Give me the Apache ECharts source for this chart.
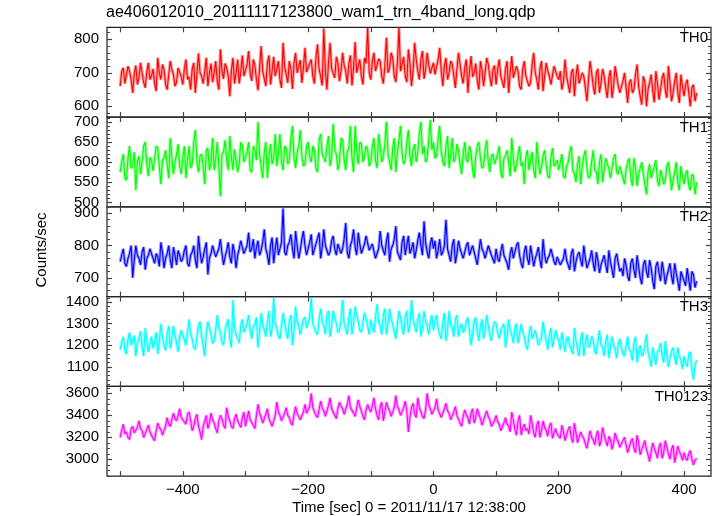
<!DOCTYPE html>
<html>
<head>
<meta charset="utf-8">
<script src="https://cdn.jsdelivr.net/npm/echarts@6/dist/echarts.min.js"></script>
<style>html,body{margin:0;padding:0;background:#fff}#c{width:717px;height:516px}</style>
</head>
<body>
<div id="c"></div>
<script>
// time axis: first bin time and bin width (sec)
const T0 = -500, DT = 2.5;
const titleText = 'ae406012010_20111117123800_wam1_trn_4band_long.qdp';
const yTitle = 'Counts/sec';
const xTitle = 'Time [sec] 0 = 2011/11/17 12:38:00';
const xMajorTicks = [-500,-400,-300,-200,-100,0,100,200,300,400];
const xTickLabels = [-400,-200,0,200,400];
const panelNames = ['TH0','TH1','TH2','TH3','TH0123'];

const th0 = [
660,705,715,668,672,720,705,680,640,698,722,665,685,730,700,672,655,702,730,680,690,712,668,645,745,700,680,725,710,665,650,695,735,710,695,660,672,715,720,688,
665,712,740,680,688,650,712,730,640,695,758,700,690,668,705,745,660,700,728,672,700,735,675,650,770,705,682,728,715,690,630,705,745,668,700,740,668,702,752,690,
690,725,765,700,676,740,722,680,648,712,780,705,700,660,730,752,665,705,748,690,712,735,680,655,790,720,695,670,735,712,652,730,760,700,705,738,670,715,775,702,
700,728,740,690,668,745,785,710,690,662,832,705,650,730,790,712,712,685,748,730,675,705,760,722,705,668,728,752,662,715,792,700,720,740,690,665,745,728,834,700,
680,735,760,705,700,742,735,690,668,720,805,700,715,760,745,690,672,730,836,705,725,748,690,672,770,728,660,705,790,740,705,680,740,765,682,710,760,725,698,715,
730,695,690,740,775,705,660,722,745,680,700,735,728,690,655,712,760,725,690,668,715,740,640,705,750,688,700,728,678,650,735,710,660,700,745,725,690,660,710,722,
665,712,740,690,690,655,712,735,640,700,750,685,685,720,705,660,650,712,735,690,695,660,670,725,760,700,680,650,712,735,645,690,730,705,690,665,660,720,725,690,
680,705,650,672,740,690,665,640,700,712,630,690,725,668,672,700,690,655,615,680,735,700,660,635,700,712,640,672,712,690,655,625,685,708,625,660,720,690,660,640,
640,675,700,655,610,670,680,640,650,695,725,660,630,605,690,672,600,650,670,695,645,612,705,668,620,650,685,700,650,625,720,672,615,640,675,700,640,610,695,660,
630,665,680,640,600,655,665,615,640];
const th1 = [
575,600,620,560,555,610,640,585,590,625,530,600,615,570,600,640,650,595,565,612,605,578,580,640,635,590,545,605,610,630,595,560,660,610,570,598,620,645,590,570,
610,640,560,605,640,585,595,650,680,600,575,615,620,590,545,630,635,580,600,660,580,610,650,590,515,620,625,655,605,580,665,615,580,632,630,575,595,650,640,600,
600,625,650,580,575,640,630,605,700,620,590,560,625,650,560,615,645,595,610,670,590,620,670,600,580,640,635,595,605,660,690,610,585,625,640,680,615,590,595,640,
650,610,600,640,630,585,575,655,670,620,610,600,640,665,590,615,695,630,620,580,600,660,655,605,580,625,635,690,610,575,690,630,595,650,645,600,615,640,630,590,
600,640,660,605,585,670,640,600,615,645,700,620,600,580,635,660,575,625,655,690,620,595,605,650,680,615,590,630,645,600,625,670,700,620,640,600,610,655,705,630,
650,610,615,660,690,625,600,590,640,665,585,620,660,600,610,645,630,595,570,620,650,605,600,640,625,580,560,615,640,650,610,585,590,630,655,600,575,615,620,595,
595,620,640,575,560,610,615,630,600,565,660,610,575,590,620,640,590,600,545,615,630,580,605,625,580,560,650,605,570,590,615,630,595,565,560,610,635,590,590,605,
580,600,620,565,560,590,600,625,640,580,570,550,595,615,545,590,615,630,585,560,565,600,630,580,575,545,600,620,550,580,610,595,585,560,560,610,620,575,570,590,
590,560,545,580,600,610,565,540,610,585,540,570,585,600,570,545,520,575,595,560,560,590,605,555,540,580,580,545,555,590,600,570,530,555,575,600,550,530,590,565,
545,570,580,540,530,570,565,520,550];
const th2 = [
750,770,790,745,735,760,775,800,700,755,800,770,760,740,780,795,725,760,770,790,790,760,745,775,765,735,810,780,730,760,775,800,755,730,795,770,740,785,770,750,
760,785,800,745,735,770,780,800,755,730,830,780,745,765,790,810,710,760,775,800,800,765,760,790,820,775,740,765,785,810,765,745,805,780,730,770,790,815,815,775,
775,800,840,780,790,820,760,795,815,770,785,810,850,790,770,740,800,825,745,790,825,770,790,810,915,780,770,800,810,835,790,760,845,800,760,785,820,845,800,770,
790,810,835,770,775,805,810,840,760,795,850,800,800,770,780,815,830,790,770,805,805,775,790,820,870,780,760,800,815,850,795,770,840,805,775,790,805,830,830,785,
780,805,810,760,760,790,845,800,795,770,815,840,750,790,800,820,860,780,785,755,810,830,770,800,830,775,790,810,760,785,815,840,800,770,875,810,780,760,805,825,
790,815,760,785,820,770,780,800,880,790,770,750,800,820,745,775,815,790,785,760,765,800,810,770,775,800,795,760,740,780,820,790,780,760,760,800,800,770,770,745,
790,760,750,780,805,770,770,745,725,775,795,760,765,800,810,770,745,730,780,800,760,740,800,770,735,760,775,795,755,730,820,770,745,760,770,790,790,750,740,765,
765,740,735,760,790,755,750,725,775,790,720,750,770,780,755,735,800,760,730,745,760,785,745,720,780,755,715,740,755,770,740,715,785,750,725,700,760,775,745,720,
730,705,760,740,705,690,745,760,725,700,770,735,700,680,740,755,720,700,755,730,690,665,735,750,715,690,750,720,680,705,725,745,705,680,745,715,690,660,720,705,
700,675,730,695,660,720,710,670,690];
const th3 = [
1180,1215,1240,1175,1160,1230,1260,1200,1200,1245,1150,1210,1230,1265,1190,1150,1280,1225,1170,1205,1240,1185,1215,1260,1160,1220,1300,1240,1200,1175,1250,1290,1185,1230,1290,1250,1210,1170,1240,1270,
1270,1225,1200,1260,1320,1250,1230,1190,1180,1240,1290,1310,1240,1200,1150,1260,1310,1280,1250,1210,1220,1270,1340,1280,1260,1215,1200,1270,1300,1320,1230,1190,1410,1280,1250,1230,1210,1290,1320,1260,
1260,1300,1340,1270,1230,1285,1300,1330,1190,1260,1350,1300,1270,1240,1310,1360,1240,1280,1420,1300,1280,1240,1230,1290,1350,1310,1260,1230,1310,1340,1200,1270,1380,1310,1290,1250,1250,1320,1330,1280,
1280,1330,1420,1300,1300,1260,1250,1320,1370,1310,1290,1250,1340,1360,1240,1290,1360,1330,1300,1260,1270,1320,1410,1300,1280,1250,1330,1370,1250,1300,1380,1340,1310,1270,1260,1310,1350,1320,1290,1250,
1320,1280,1260,1330,1390,1310,1290,1250,1340,1370,1250,1300,1370,1320,1300,1260,1230,1300,1360,1330,1280,1250,1330,1360,1260,1300,1410,1320,1290,1260,1320,1350,1240,1280,1360,1310,1290,1250,1310,1340,
1270,1310,1340,1280,1250,1230,1310,1350,1220,1270,1360,1300,1280,1240,1320,1340,1240,1280,1300,1260,1270,1310,1330,1270,1200,1250,1310,1330,1260,1220,1290,1320,1230,1270,1340,1290,1250,1220,1280,1310,
1300,1260,1230,1270,1270,1300,1190,1240,1320,1270,1250,1210,1280,1300,1210,1250,1300,1260,1240,1200,1180,1250,1290,1230,1230,1270,1270,1200,1200,1240,1310,1260,1220,1180,1250,1280,1190,1230,1270,1240,
1220,1180,1260,1210,1170,1230,1240,1200,1200,1160,1280,1220,1180,1150,1230,1260,1150,1210,1250,1190,1200,1240,1230,1170,1160,1220,1270,1200,1190,1150,1220,1250,1140,1190,1240,1200,1180,1140,1210,1230,
1190,1160,1150,1200,1240,1180,1170,1130,1210,1240,1120,1170,1200,1150,1160,1200,1250,1170,1140,1100,1190,1150,1110,1170,1180,1210,1150,1120,1220,1160,1100,1140,1170,1190,1140,1110,1190,1150,1130,1090,
1150,1120,1100,1160,1170,1090,1040,1110,1130];
const th0123 = [
3200,3260,3320,3230,3250,3200,3180,3280,3300,3240,3230,3290,3350,3280,3260,3200,3200,3270,3310,3250,3240,3190,3170,3260,3330,3290,3270,3220,3210,3300,3380,3320,3300,3360,3420,3370,3350,3400,3460,3380,
3380,3340,3320,3410,3430,3350,3260,3300,3370,3410,3300,3250,3180,3290,3350,3400,3280,3330,3420,3360,3330,3280,3240,3350,3400,3370,3310,3280,3470,3390,3350,3300,3280,3370,3410,3350,3320,3290,3380,3430,
3300,3370,3440,3360,3350,3310,3280,3400,3500,3420,3380,3330,3320,3410,3460,3370,3360,3300,3290,3400,3520,3430,3400,3350,3340,3420,3470,3400,3380,3330,3310,3410,3480,3420,3410,3360,3360,3430,3500,3420,
3420,3480,3600,3470,3460,3400,3380,3450,3530,3470,3440,3390,3400,3490,3560,3460,3450,3400,3370,3460,3520,3480,3460,3410,3410,3500,3580,3470,3470,3420,3390,3470,3540,3480,3440,3390,3360,3450,3500,3460,
3430,3490,3560,3460,3400,3360,3480,3520,3350,3430,3520,3470,3440,3390,3380,3470,3580,3480,3450,3400,3400,3470,3530,3440,3250,3380,3470,3510,3410,3380,3560,3470,3430,3390,3370,3450,3600,3500,3460,3410,
3420,3470,3550,3450,3440,3380,3380,3460,3510,3440,3420,3360,3350,3430,3480,3400,3400,3330,3300,3390,3450,3400,3380,3320,3420,3460,3330,3380,3460,3410,3370,3310,3310,3400,3440,3390,3360,3300,3290,3350,
3400,3340,3320,3260,3260,3330,3380,3320,3300,3250,3430,3360,3270,3220,3350,3400,3220,3280,3320,3260,3280,3230,3400,3330,3240,3200,3310,3350,3200,3260,3350,3290,3260,3210,3300,3330,3190,3240,3280,3230,
3240,3190,3310,3250,3170,3220,3270,3300,3200,3150,3330,3240,3150,3200,3250,3210,3190,3140,3100,3180,3260,3200,3180,3130,3220,3260,3120,3170,3290,3220,3170,3120,3210,3180,3090,3150,3240,3190,3160,3110,
3120,3170,3200,3130,3060,3110,3160,3190,3100,3060,3220,3150,3040,3090,3130,3170,3090,3040,2980,3070,3150,3100,3060,3010,3110,3150,3010,3060,3170,3110,3050,3000,3090,3130,2970,3040,3120,3070,3040,2990,
3060,3010,2990,3050,3080,3000,2950,2990,3010];

// y-axis ranges and tick values
const yMins = [568, 489, 642, 1010, 2848];
const yMaxs = [836, 712, 920, 1426, 3664];
const yMajors = [[600,700,800],[500,550,600,650,700],[700,800,900],[1100,1200,1300,1400],[3000,3200,3400,3600]];
const yMinorSteps = [20, 10, 20, 20, 50];

// styling (not data)
const colors = ['#ff0000','#00ff00','#0000ff','#00ffff','#ff00ff'];
const FONT = '"Liberation Sans", Arial, Helvetica, sans-serif';
const L = 107, R = 6, TOP = 27.3, H = 89.75;

const seriesData = [th0, th1, th2, th3, th0123];
const grids = [], xAxes = [], yAxes = [], series = [], titles = [];
const fmt = v => (v < 0 ? '\u2212' + Math.abs(v) : String(v));

for (let i = 0; i < 5; i++) {
  const top = TOP + i * H;
  grids.push({left: L, right: R, top: top, height: H, show: true, borderColor: '#222', borderWidth: 1.2,
    backgroundColor: 'transparent', outerBoundsMode: 'none', containLabel: false});
  const last = i === 4;
  const xCommon = {type: 'value', gridIndex: i, min: -521, max: 443, splitLine: {show: false}, axisLine: {show: false, onZero: false}};
  xAxes.push(Object.assign({}, xCommon, {
    position: 'bottom',
    axisTick: {show: true, inside: true, length: 5, lineStyle: {color: '#444', width: 1.2}, customValues: xMajorTicks},
    axisLabel: {show: last, customValues: xTickLabels, formatter: fmt, fontSize: 15, color: '#000', fontFamily: FONT, margin: 6},
    name: last ? xTitle : '', nameLocation: 'middle', nameGap: 24,
    nameTextStyle: {fontSize: 15, color: '#000', fontFamily: FONT, verticalAlign: 'top'}
  }));
  xAxes.push(Object.assign({}, xCommon, {
    position: 'top',
    axisTick: {show: true, inside: true, length: 5, lineStyle: {color: '#444', width: 1.2}, customValues: xMajorTicks},
    axisLabel: {show: false}
  }));
  const minors = [];
  const st = yMinorSteps[i];
  for (let v = Math.ceil(yMins[i] / st) * st; v <= yMaxs[i]; v += st) {
    if (yMajors[i].indexOf(v) < 0) minors.push(v);
  }
  const yCommon = {type: 'value', gridIndex: i, min: yMins[i], max: yMaxs[i], splitLine: {show: false}, axisLine: {show: false, onZero: false}};
  ['left', 'right'].forEach(pos => {
    yAxes.push(Object.assign({}, yCommon, {
      position: pos,
      axisTick: {show: true, inside: true, length: 5, lineStyle: {color: '#444', width: 1.2}, customValues: yMajors[i]},
      axisLabel: {show: pos === 'left', customValues: yMajors[i], formatter: v => String(v), fontSize: 15, color: '#000', fontFamily: FONT, margin: 8}
    }));
    yAxes.push(Object.assign({}, yCommon, {
      position: pos,
      axisTick: {show: true, inside: true, length: 3, lineStyle: {color: '#444', width: 1}, customValues: minors},
      axisLabel: {show: false}
    }));
  });
  const pts = seriesData[i].map((v, k) => [T0 + k * DT, v]);
  series.push({type: 'line', xAxisIndex: 2 * i, yAxisIndex: 4 * i, data: pts, showSymbol: false, silent: true, animation: false,
    lineStyle: {color: colors[i], width: 3.2, opacity: 0.38}, z: 1});
  series.push({type: 'line', xAxisIndex: 2 * i, yAxisIndex: 4 * i, data: pts, showSymbol: false, silent: true, animation: false,
    lineStyle: {color: colors[i], width: 1.1}, z: 2});
  titles.push({text: panelNames[i], right: 9, top: top + 3, textStyle: {fontSize: 15, fontWeight: 'normal', color: '#000', fontFamily: FONT}, padding: 0});
}
titles.push({text: titleText, left: 106, top: 5, padding: 0, textStyle: {fontSize: 16, fontWeight: 'normal', color: '#000', fontFamily: FONT}});

const chart = echarts.init(document.getElementById('c'), null, {renderer: 'canvas'});
chart.setOption({
  animation: false,
  backgroundColor: '#fff',
  title: titles,
  grid: grids,
  xAxis: xAxes,
  yAxis: yAxes,
  series: series,
  graphic: [{type: 'text', x: 42, y: 250, rotation: Math.PI / 2,
    style: {text: yTitle, fontSize: 15, fill: '#000', fontFamily: FONT, align: 'center', verticalAlign: 'middle'}}]
});
</script>
</body>
</html>
